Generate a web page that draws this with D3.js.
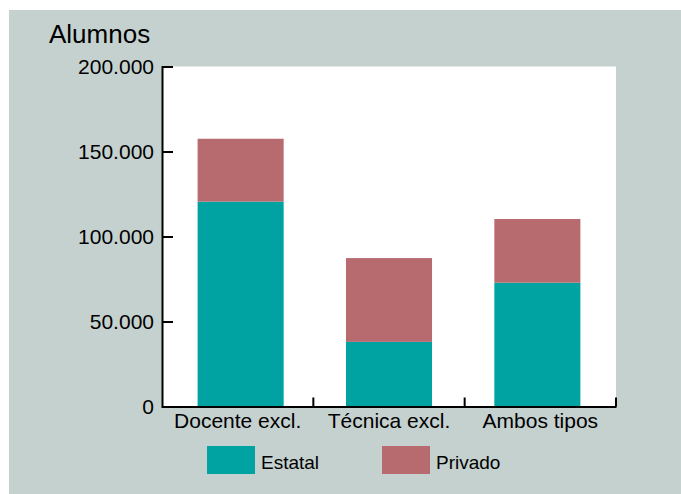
<!DOCTYPE html>
<html>
<head>
<meta charset="utf-8">
<script src="https://cdn.jsdelivr.net/npm/d3@7"></script>
<style>
  html, body { margin: 0; padding: 0; background: #fff; }
  svg { display: block; font-family: "Liberation Sans", Arial, sans-serif; }
</style>
</head>
<body>
<svg id="chart" width="681" height="494"></svg>
<script>
// data
const categories = ['Docente excl.', 'Técnica excl.', 'Ambos tipos'];
const seriesNames = ['Estatal', 'Privado'];
const estatal = [120500, 38000, 72800];
const privado = [37000, 49300, 37500];
const yTicks = [0, 50000, 100000, 150000, 200000];
const colors = ['#00a3a2', '#b76b6f'];

const W = 681, H = 494;
const plot = { left: 162, right: 616, top: 66.5, bottom: 406.5 };

const svg = d3.select('#chart');

// grey panel behind everything
svg.append('rect')
  .attr('x', 9).attr('y', 10)
  .attr('width', W - 9).attr('height', H - 10)
  .attr('fill', '#c5d1ce');

svg.append('rect')
  .attr('x', plot.left).attr('y', plot.top)
  .attr('width', plot.right - plot.left).attr('height', plot.bottom - plot.top)
  .attr('fill', '#fff');

const x = d3.scaleBand()
  .domain(d3.range(categories.length))
  .range([plot.left, plot.right])
  .paddingInner(0.42)
  .paddingOuter(0.24);

const xGrid = d3.scaleBand()
  .domain(d3.range(categories.length))
  .range([plot.left, plot.right]);

const y = d3.scaleLinear()
  .domain([0, 200000])
  .range([plot.bottom, plot.top]);

const rows = categories.map((c, i) => ({ i, Estatal: estatal[i], Privado: privado[i] }));
const stacked = d3.stack().keys(seriesNames)(rows);

svg.append('g')
  .selectAll('g')
  .data(stacked)
  .join('g')
  .attr('fill', (d, k) => colors[k])
  .selectAll('rect')
  .data(d => d)
  .join('rect')
  .attr('x', d => x(d.data.i))
  .attr('width', x.bandwidth())
  .attr('y', d => y(d[1]))
  .attr('height', d => y(d[0]) - y(d[1]));

// y axis, ticks pointing inward
const fmt = v => v === 0 ? '0' : d3.format(',')(v).replace(/,/g, '.');
const yAxis = svg.append('g')
  .attr('transform', `translate(${plot.left},0)`)
  .call(d3.axisRight(y).tickValues(yTicks).tickSize(11).tickFormat(''));
yAxis.select('.domain').attr('stroke', '#000').attr('stroke-width', 2);
yAxis.selectAll('.tick line').attr('stroke', '#000').attr('stroke-width', 2);

svg.append('g')
  .selectAll('text')
  .data(yTicks)
  .join('text')
  .attr('x', plot.left - 8)
  .attr('y', d => y(d))
  .attr('dy', '0.36em')
  .attr('text-anchor', 'end')
  .attr('font-size', 21)
  .attr('fill', '#000')
  .text(fmt);

// x axis with separators between categories
const xAxis = svg.append('g')
  .attr('transform', `translate(0,${plot.bottom})`)
  .call(d3.axisTop(xGrid).tickSize(0).tickFormat(''));
xAxis.select('.domain').attr('stroke', '#000').attr('stroke-width', 2);
xAxis.selectAll('.tick').remove();

svg.append('g')
  .selectAll('line')
  .data(d3.range(1, categories.length + 1))
  .join('line')
  .attr('x1', i => xGrid(i - 1) + xGrid.bandwidth())
  .attr('x2', i => xGrid(i - 1) + xGrid.bandwidth())
  .attr('y1', plot.bottom)
  .attr('y2', plot.bottom - 9)
  .attr('stroke', '#000')
  .attr('stroke-width', 2);

svg.append('g')
  .selectAll('text')
  .data(categories)
  .join('text')
  .attr('x', (d, i) => xGrid(i) + xGrid.bandwidth() / 2)
  .attr('y', 428)
  .attr('text-anchor', 'middle')
  .attr('font-size', 21)
  .attr('fill', '#000')
  .text(d => d);

// title
svg.append('text')
  .attr('x', 49).attr('y', 43)
  .attr('font-size', 26)
  .attr('fill', '#000')
  .text('Alumnos');

// legend
const legendX = [207, 382];
const legend = svg.append('g')
  .selectAll('g')
  .data(seriesNames)
  .join('g')
  .attr('transform', (d, k) => `translate(${legendX[k]},446)`);
legend.append('rect')
  .attr('width', 48).attr('height', 28)
  .attr('fill', (d, k) => colors[k]);
legend.append('text')
  .attr('x', 54).attr('y', 23)
  .attr('font-size', 19)
  .attr('fill', '#000')
  .text(d => d);
</script>
</body>
</html>
